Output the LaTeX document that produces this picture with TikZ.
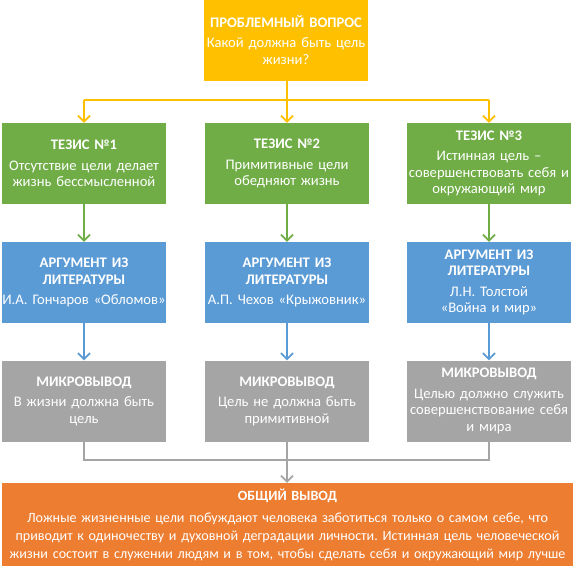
\documentclass[tikz,border=0pt]{standalone}
\usepackage{fontspec}
\setmainfont{Carlito}
\frenchspacing
\usetikzlibrary{arrows.meta,calc}
\definecolor{cyel}{HTML}{FFC000}
\definecolor{cgrn}{HTML}{70AD47}
\definecolor{cblu}{HTML}{5B9BD5}
\definecolor{cgry}{HTML}{A5A5A5}
\definecolor{corg}{HTML}{ED7D31}
\tikzset{
  box/.style={inner sep=0pt, minimum width=164pt, minimum height=81pt, text width=164pt, align=center, text=white, font=\fontsize{14.6}{16.5}\selectfont},
  wide/.style={box, minimum width=571pt, minimum height=83pt, text width=571pt, font=\fontsize{14.1}{18}\selectfont},
  conn/.style={line width=1.8pt, -{Straight Barb[length=6pt,width=12pt,line width=1.8pt]}},
  plain/.style={line width=1.8pt},
}
\newcommand{\ttl}[1]{\textbf{#1}\\[4pt]}
\begin{document}
\begin{tikzpicture}[x=1pt,y=-1pt]
\useasboundingbox[fill=white] (0,0) rectangle (581,574);
% top
\node[box, fill=cyel] (q) at (286,40) {\ttl{ПРОБЛЕМНЫЙ ВОПРОС}Какой должна быть цель\\жизни?};
% theses
\node[box, fill=cgrn] (t1) at (84,163.5) {\ttl{ТЕЗИС №1}Отсутствие цели делает\\жизнь бессмысленной};
\node[box, fill=cgrn] (t2) at (287,163.5) {\ttl{ТЕЗИС №2}Примитивные цели\\обедняют жизнь};
\node[box, fill=cgrn] (t3) at (489,163.5) {\ttl{ТЕЗИС №3}Истинная цель –\\совершенствовать себя и\\окружающий мир};
% arguments
\node[box, fill=cblu] (a1) at (84,282.5) {\textbf{АРГУМЕНТ ИЗ}\\\ttl{ЛИТЕРАТУРЫ}И.А. Гончаров «Обломов»};
\node[box, fill=cblu] (a2) at (287,282.5) {\textbf{АРГУМЕНТ ИЗ}\\\ttl{ЛИТЕРАТУРЫ}А.П. Чехов «Крыжовник»};
\node[box, fill=cblu] (a3) at (489,282.5) {\textbf{АРГУМЕНТ ИЗ}\\\ttl{ЛИТЕРАТУРЫ}Л.Н. Толстой\\«Война и мир»};
% micro conclusions
\node[box, fill=cgry] (m1) at (84,401) {\ttl{МИКРОВЫВОД}В жизни должна быть\\цель};
\node[box, fill=cgry] (m2) at (287,401) {\ttl{МИКРОВЫВОД}Цель не должна быть\\примитивной};
\node[box, fill=cgry] (m3) at (489,401) {\ttl{МИКРОВЫВОД}Целью должно служить\\совершенствование себя\\и мира};
% general conclusion
\node[wide, fill=corg] (g) at (287.5,524.5) {\ttl{ОБЩИЙ ВЫВОД}Ложные жизненные цели побуждают человека заботиться только о самом себе, что\\приводит к одиночеству и духовной деградации личности. Истинная цель человеческой\\жизни состоит в служении людям и в том, чтобы сделать себя и окружающий мир лучше};
% yellow connectors
\coordinate (yb) at (0,100);
\draw[plain, cyel] (t1.north |- yb) -- (t3.north |- yb);
\draw[conn, cyel] (q.south -| t2.north) -- (t2.north);
\draw[conn, cyel] (t1.north |- yb) -- (t1.north);
\draw[conn, cyel] (t3.north |- yb) -- (t3.north);
% green
\foreach \i in {1,2,3} \draw[conn, cgrn] (t\i.south) -- (a\i.north);
% blue
\foreach \i in {1,2,3} \draw[conn, cblu] (a\i.south) -- (m\i.north);
% gray
\coordinate (gb) at (0,460);
\draw[plain, cgry] (m1.south) -- (m1.south |- gb) -- (m3.south |- gb) -- (m3.south);
\draw[conn, cgry] (m2.south) -- (g.north -| m2.south);
\end{tikzpicture}
\end{document}
